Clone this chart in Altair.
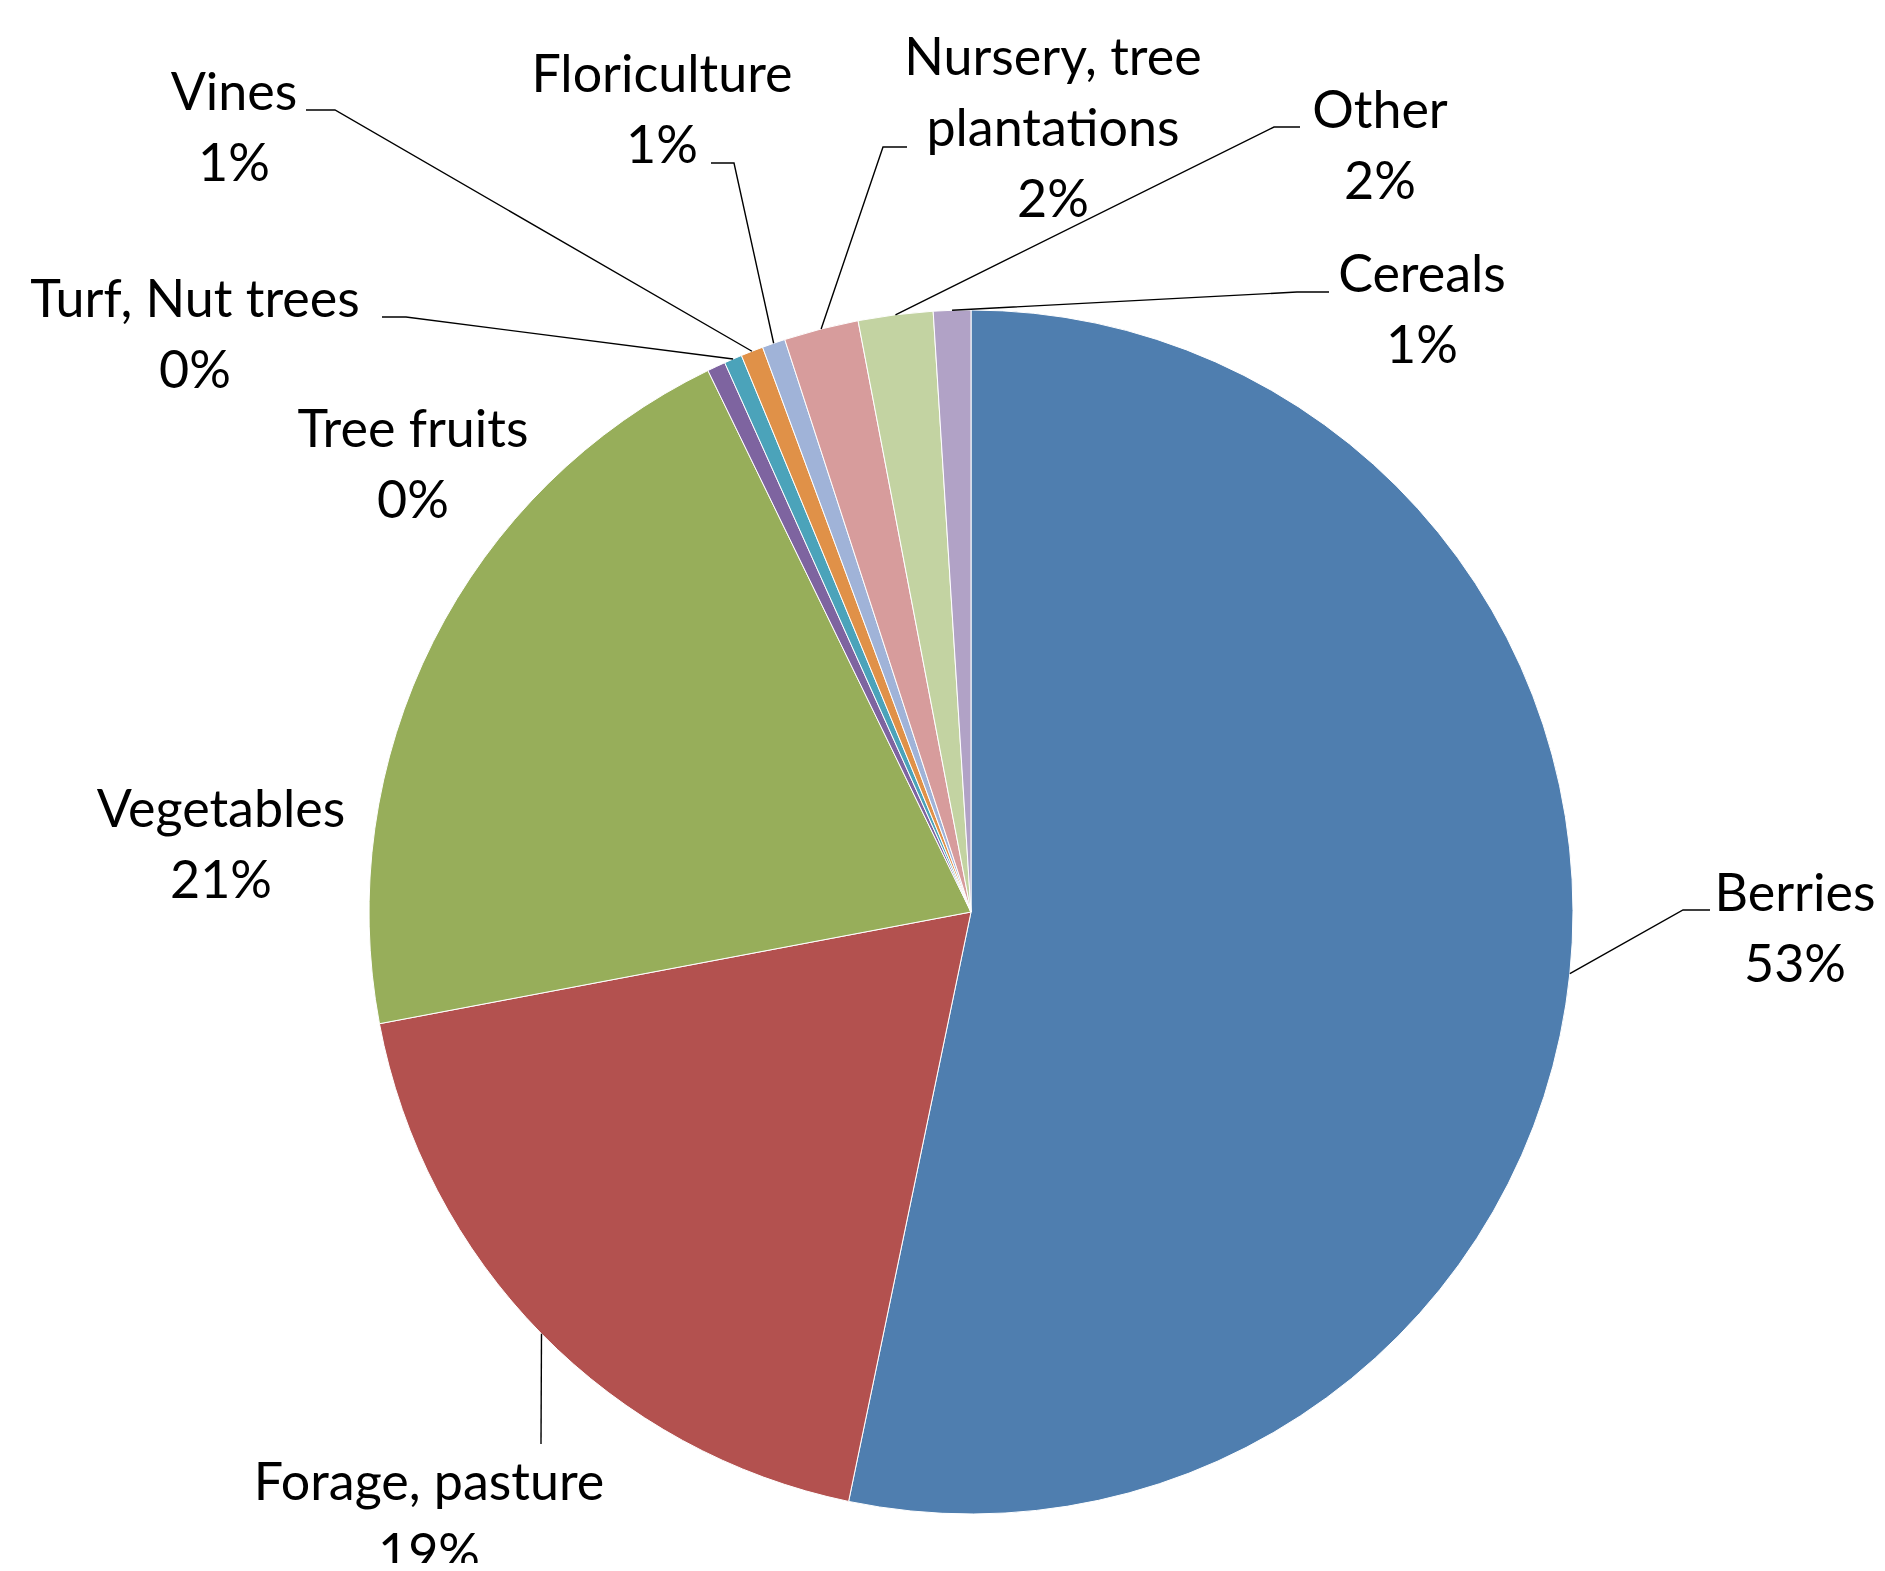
import math
import altair as alt
import pandas as pd

# ---- data ----
categories = ["Berries", "Forage, pasture", "Vegetables", "Tree fruits", "Turf, Nut trees",
              "Vines", "Floriculture", "Nursery, tree plantations", "Other", "Cereals"]
shares = [53.2, 18.75, 20.75, 0.49, 0.48, 0.60, 0.62, 2.0, 2.0, 1.0]
colors = ["#4F7EAF", "#B3514F", "#97AE5A", "#7E64A0", "#4BA3BA",
          "#E09148", "#A0B3D8", "#D79C9C", "#C3D3A2", "#B1A2C6"]

# ---- layout (page pixel coordinates) ----
W, H = 1869, 1555
CX, CY, R = 971, 912, 602
label_lines = [["Berries"], ["Forage, pasture"], ["Vegetables"], ["Tree fruits"],
               ["Turf, Nut trees"], ["Vines"], ["Floriculture"],
               ["Nursery, tree", "plantations"], ["Other"], ["Cereals"]]
label_cx = [1795, 429, 221, 413, 195, 234, 662, 1053, 1380, 1422]
label_y0 = [911, 1500, 827, 447, 317, 110, 92, 75, 128, 292]
line_step = 71
leader_elbow = [(1683, 910), (541, 1444), None, None, (406, 317), (335, 110),
                (734, 163), (883, 147), (1274, 127), (1297, 292)]
leader_end = [(1710, 910), (541, 1444), None, None, (382, 317), (306, 110),
              (711, 163), (907, 147), (1300, 127), (1329, 292)]

total = sum(shares)
slices = pd.DataFrame({"category": categories, "value": shares, "idx": range(len(categories))})

# text rows
text_rows = []
for i, cat in enumerate(categories):
    lines = label_lines[i] + [f"{round(shares[i] / total * 100)}%"]
    for k, t in enumerate(lines):
        text_rows.append({"text": t, "X": label_cx[i], "Y": label_y0[i] + k * line_step})
texts = pd.DataFrame(text_rows)

# leader lines, starting at the slice mid-angle on the pie edge
lead_rows = []
cum = 0.0
for i, v in enumerate(shares):
    mid = (cum + v / 2) / total * 2 * math.pi
    cum += v
    if leader_elbow[i] is None:
        continue
    sx, sy = CX + R * math.sin(mid), CY - R * math.cos(mid)
    pts = [(sx, sy), leader_elbow[i], leader_end[i]]
    for s, (px, py) in enumerate(pts):
        lead_rows.append({"key": categories[i], "seq": s, "X": px, "Y": py})
leads = pd.DataFrame(lead_rows)

xs = alt.Scale(domain=[8, 8 + W], nice=False, zero=False)
ys = alt.Scale(domain=[8, 8 + H], nice=False, zero=False, reverse=True)

pie = alt.Chart(slices).mark_arc(outerRadius=R, stroke="white", strokeWidth=1).encode(
    theta=alt.Theta("value:Q", stack=True),
    order=alt.Order("idx:Q"),
    color=alt.Color("category:N", scale=alt.Scale(domain=categories, range=colors), legend=None),
    x=alt.value(CX - 8),
    y=alt.value(CY - 8),
)

lines = alt.Chart(leads).mark_line(color="black", strokeWidth=1.4).encode(
    x=alt.X("X:Q", scale=xs, axis=None),
    y=alt.Y("Y:Q", scale=ys, axis=None),
    detail="key:N",
    order="seq:Q",
)

labels = alt.Chart(texts).mark_text(
    font="Lato", fontSize=52, align="center", baseline="alphabetic", color="black"
).encode(
    x=alt.X("X:Q", scale=xs, axis=None),
    y=alt.Y("Y:Q", scale=ys, axis=None),
    text="text:N",
)

chart = alt.layer(pie, lines, labels).properties(
    width=W, height=H, padding=0, autosize="none"
).configure_view(stroke=None)

chart.save("out.html", embed_options={"renderer": "svg", "actions": False})
